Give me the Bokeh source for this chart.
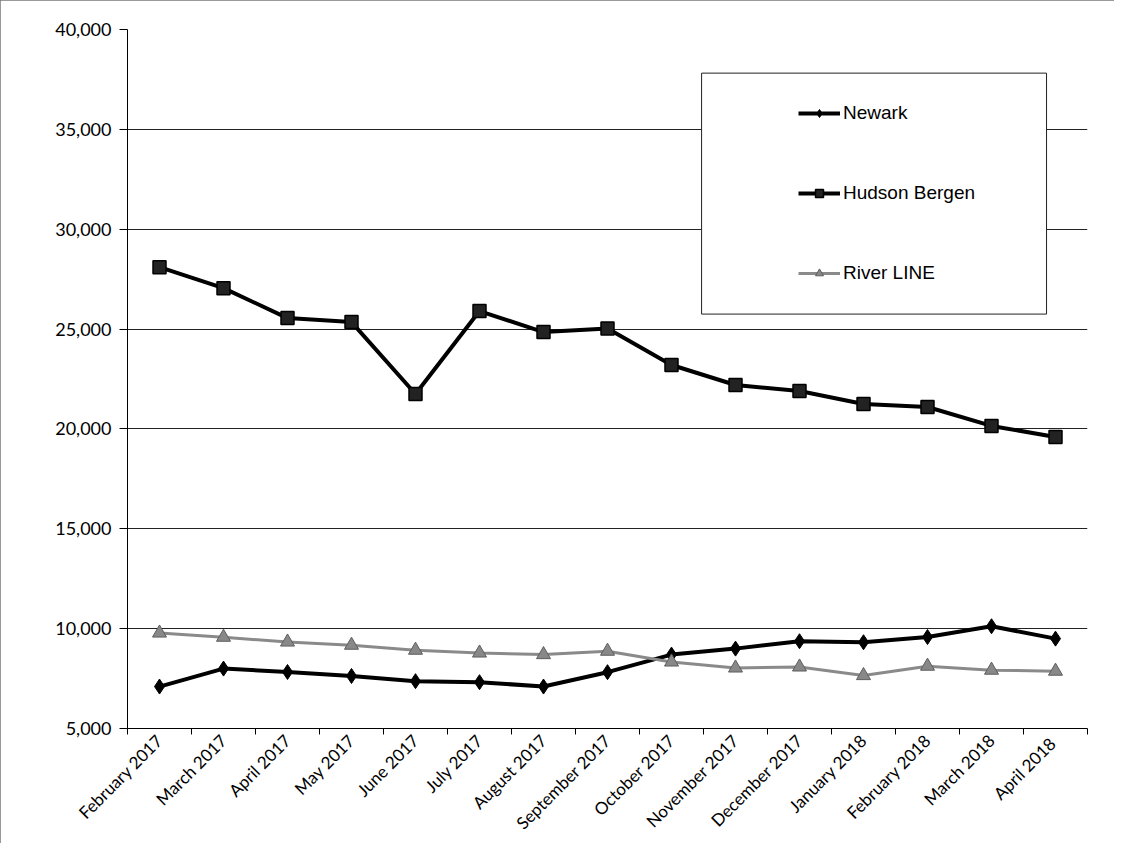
from bokeh.plotting import figure
from bokeh.models import (FixedTicker, NumeralTickFormatter, Range1d, Legend,
                          LegendItem, BoxAnnotation)
from bokeh.embed import file_html
from bokeh.resources import INLINE
import math

months = ["February 2017", "March 2017", "April 2017", "May 2017", "June 2017",
          "July 2017", "August 2017", "September 2017", "October 2017",
          "November 2017", "December 2017", "January 2018", "February 2018",
          "March 2018", "April  2018"]
newark = [7100, 8000, 7830, 7630, 7370, 7320, 7100, 7820, 8700, 9000,
          9370, 9320, 9580, 10120, 9500]
hudson_bergen = [28100, 27050, 25550, 25350, 21750, 25900, 24850, 25030,
                 23200, 22200, 21900, 21250, 21100, 20150, 19600]
river_line = [9780, 9570, 9330, 9170, 8920, 8780, 8700, 8870, 8330, 8030,
              8080, 7650, 8120, 7920, 7870]
y_ticks = [5000, 10000, 15000, 20000, 25000, 30000, 35000, 40000]

xs = [i + 0.5 for i in range(len(months))]

p = figure(width=1114, height=843, output_backend="svg", toolbar_location=None,
           x_range=Range1d(0, len(months)), y_range=Range1d(5000, 40000),
           min_border_left=127, min_border_right=27, min_border_top=29,
           min_border_bottom=100)
p.styles = {"outline": "1px solid #777", "outline-offset": "-1px"}
p.outline_line_color = None
p.background_fill_color = "white"
p.border_fill_color = "white"

# x axis: ticks on category boundaries, labels at category centres
p.xaxis.ticker = FixedTicker(ticks=xs, minor_ticks=list(range(len(months) + 1)))
p.xaxis.major_label_overrides = {x: m for x, m in zip(xs, months)}
p.xaxis.major_label_orientation = math.pi / 4
p.xaxis.major_tick_out = 0
p.xaxis.major_tick_in = 0
p.xaxis.minor_tick_out = 6
p.xaxis.minor_tick_in = 0
p.xaxis.minor_tick_line_color = "black"
p.xaxis.axis_line_color = "black"
p.xaxis.major_label_text_font = "Lato"
p.xaxis.major_label_text_font_size = "17px"
p.xaxis.major_label_text_color = "black"
p.xaxis.major_label_standoff = 3

p.yaxis.ticker = FixedTicker(ticks=y_ticks, minor_ticks=[])
p.yaxis.formatter = NumeralTickFormatter(format="0,0")
p.yaxis.major_tick_out = 8
p.yaxis.major_tick_in = 0
p.yaxis.major_tick_line_color = "black"
p.yaxis.axis_line_color = "black"
p.yaxis.major_label_text_font = "Lato"
p.yaxis.major_label_text_font_size = "18px"
p.yaxis.major_label_text_color = "black"
p.yaxis.major_label_standoff = 8

p.xgrid.grid_line_color = None
p.ygrid.grid_line_color = "#222222"
p.ygrid.grid_line_width = 1

# series
r_n_line = p.line(xs, newark, line_color="black", line_width=4)
r_n_mark = p.scatter(xs, newark, marker="diamond", size=15, fill_color="black",
                     line_color="black")
r_h_line = p.line(xs, hudson_bergen, line_color="black", line_width=4)
r_h_mark = p.scatter(xs, hudson_bergen, marker="square", size=13,
                     fill_color="#222222", line_color="black", line_width=1.5)
r_r_line = p.line(xs, river_line, line_color="#8a8a8a", line_width=3)
r_r_mark = p.scatter(xs, river_line, marker="triangle", size=14,
                     fill_color="#888888", line_color="#5e5e5e", line_width=1)

# legend box
box = BoxAnnotation(left=8.97, right=14.36, top=37815, bottom=25750,
                    fill_color="white", fill_alpha=1.0,
                    line_color="#222222", line_alpha=1.0, line_width=1,
                    level="overlay")
p.add_layout(box)

legend = Legend(items=[
    LegendItem(label="Newark", renderers=[r_n_line, r_n_mark]),
    LegendItem(label="Hudson Bergen", renderers=[r_h_line, r_h_mark]),
    LegendItem(label="River LINE", renderers=[r_r_line, r_r_mark]),
], location=(671, 444))
legend.padding = 0
legend.margin = 0
legend.spacing = 58
legend.glyph_width = 42
legend.glyph_height = 20
legend.label_height = 20
legend.label_standoff = 3
legend.border_line_color = None
legend.background_fill_alpha = 0.0
legend.label_text_font = "Liberation Sans"
legend.label_text_font_size = "19px"
legend.label_text_color = "black"
p.add_layout(legend, "center")

open("out.html", "w").write(file_html(p, INLINE))
